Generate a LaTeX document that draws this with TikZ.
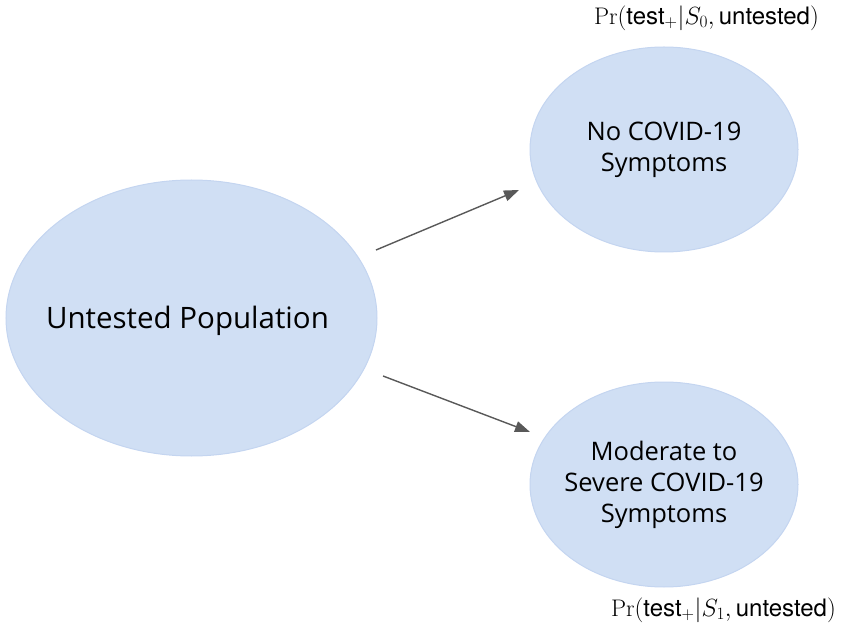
\documentclass[tikz,border=0pt]{standalone}
\usepackage{fontspec}
\setmainfont{Latin Modern Roman}
\setsansfont{TeX Gyre Heros}
\newfontfamily\nodefont{Open Sans}
\usetikzlibrary{arrows.meta,shapes.geometric}
\definecolor{ellfill}{RGB}{208,223,244}
\definecolor{elldraw}{RGB}{196,213,240}
\definecolor{arrgray}{RGB}{89,89,89}
\tikzset{
  blob/.style={ellipse, fill=ellfill, draw=elldraw, line width=1pt, inner sep=0pt},
  blobtext/.style={align=center, text=black, inner sep=0pt, font=\nodefont\fontsize{25.5}{31}\selectfont},
  conn/.style={draw=arrgray, line width=1.4pt, -{Triangle[length=15pt,width=11pt]}},
  prob/.style={inner sep=0pt, text=black, font=\fontsize{24}{29}\selectfont}
}
\begin{document}
\begin{tikzpicture}[x=1pt,y=-1pt]
\useasboundingbox (0,0) rectangle (849,636);
\node[blob, minimum width=371pt, minimum height=276pt] (pop) at (191.5,318) {};
\node[blobtext, font=\nodefont\fontsize{29.5}{36}\selectfont, xshift=-4pt, yshift=-3pt] (poptxt) at (pop.center) {Untested Population};
\node[blob, minimum width=268pt, minimum height=205pt] (none) at (664,149.5) {};
\node[blobtext] (nonetxt) at (none.center) {No COVID-19\\Symptoms};
\node[blob, minimum width=268pt, minimum height=205pt] (sev) at (664,484.5) {};
\node[blobtext] (sevtxt) at (sev.center) {Moderate to\\Severe COVID-19\\Symptoms};
\node[prob] (p0) at (706.5,18) {$\mathrm{Pr}(\textsf{test}_{+}|S_0,\textsf{untested})$};
\node[prob] (p1) at (723.5,610) {$\mathrm{Pr}(\textsf{test}_{+}|S_1,\textsf{untested})$};
\coordinate (s1) at (376,250);
\coordinate (e1) at (519,190);
\coordinate (s2) at (383,376);
\coordinate (e2) at (530,432);
\draw[conn] (s1) -- (e1);
\draw[conn] (s2) -- (e2);
\end{tikzpicture}
\end{document}
